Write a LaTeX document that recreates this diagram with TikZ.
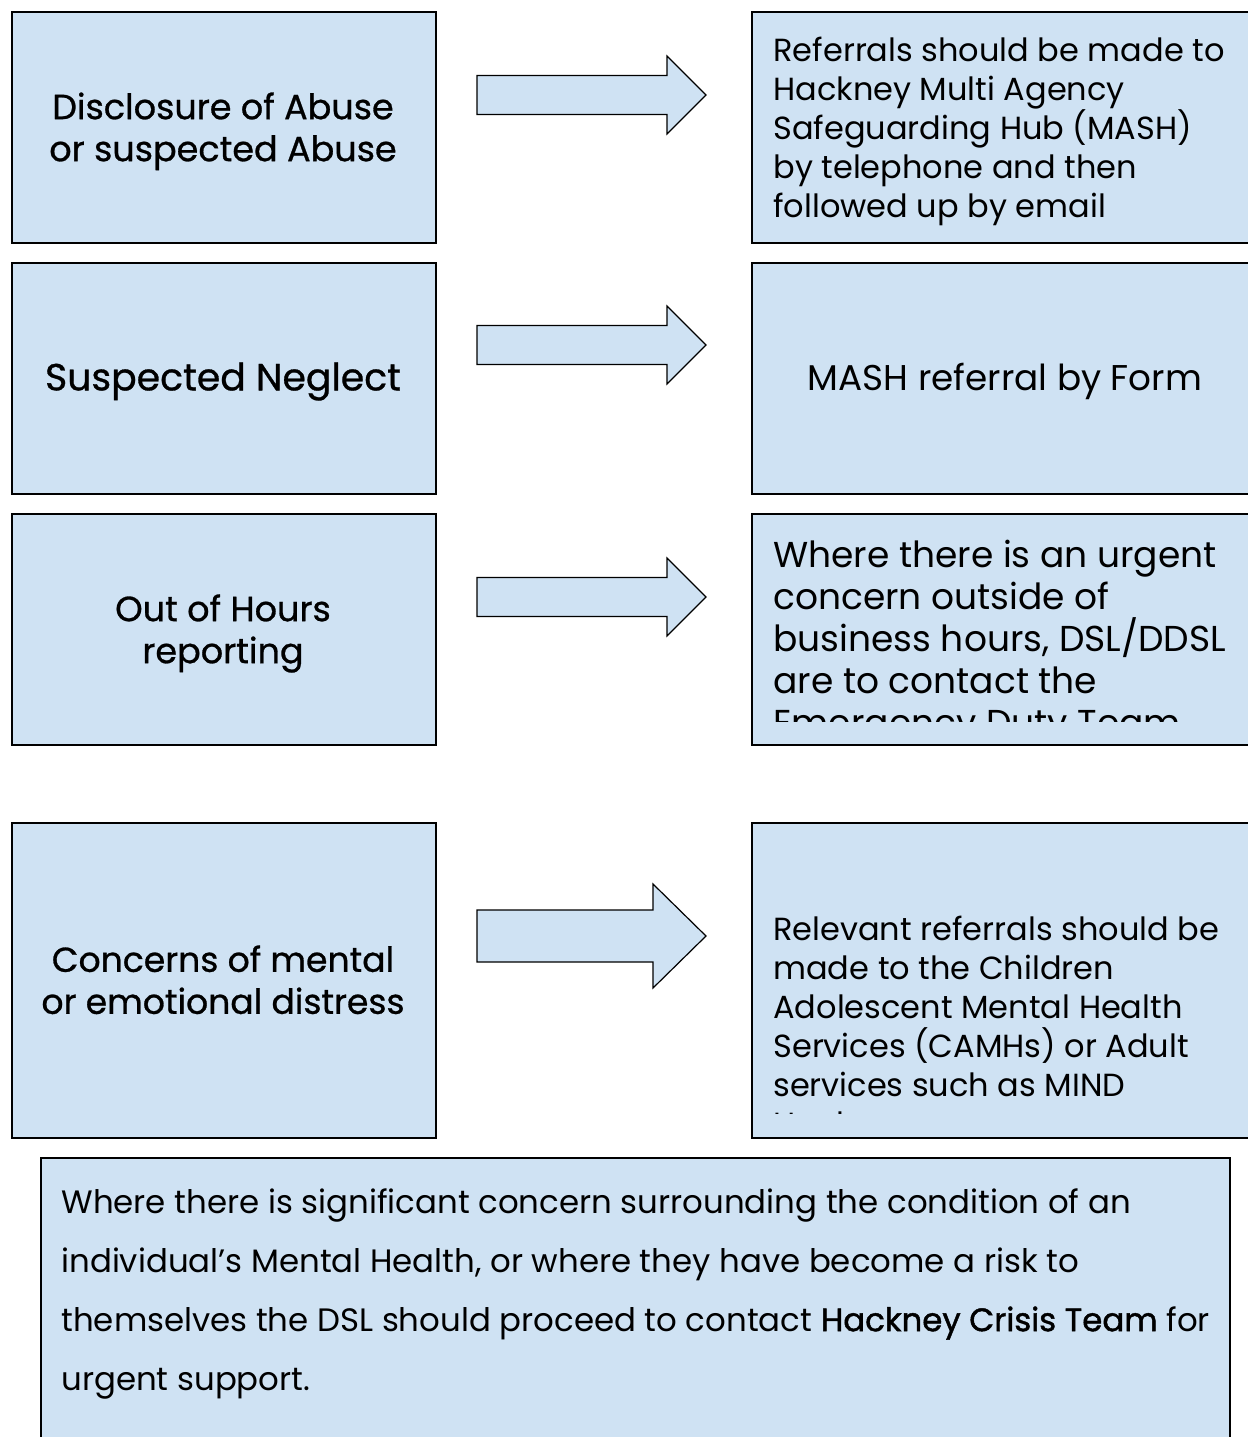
\documentclass[tikz,border=0pt]{standalone}
\usepackage{fontspec}
\setmainfont{Poppins}
\newfontfamily\medfont[FakeBold=0.8]{Poppins}
\newfontfamily\semifont[FakeBold=1.4]{Poppins}
\definecolor{boxblue}{HTML}{CFE2F3}
\begin{document}
\begin{tikzpicture}[x=0.5pt,y=-0.5pt,
  box/.style={draw=black, fill=boxblue, line width=0.75pt, anchor=north west, inner sep=0pt},
  lbox/.style={box, minimum width=212pt},
  rbox/.style={box, minimum width=260pt},
  blockarrow/.style={draw=black, fill=boxblue, line width=0.6pt, line join=miter},
  ltext/.style={inner sep=0pt, align=center, font=\medfont\fontsize{17.5}{21}\selectfont},
  rtext/.style={inner sep=0pt, align=left, anchor=north west, font=\fontsize{16}{19.5}\selectfont},
]
\useasboundingbox (0,0) rectangle (1248,1437);
\clip (0,0) rectangle (1248,1437);
% left boxes
\node[lbox, minimum height=115.5pt] (L1) at (11,11) {};
\node[lbox, minimum height=115.5pt] (L2) at (11,262) {};
\node[lbox, minimum height=115.5pt] (L3) at (11,513) {};
\node[lbox, minimum height=157.5pt] (L4) at (11,822) {};
% right boxes
\node[rbox, minimum height=115.5pt] (R1) at (751,11) {};
\node[rbox, minimum height=115.5pt] (R2) at (751,262) {};
\node[rbox, minimum height=115.5pt] (R3) at (751,513) {};
\node[rbox, minimum height=157.5pt] (R4) at (751,822) {};
% bottom box
\node[box, minimum width=594.5pt, minimum height=160pt] (B) at (40,1157) {};
% block arrows
\foreach \c/\n in {95/A1, 345/A2, 597/A3}{
  \draw[blockarrow] (477,\c-19.5) -- (667,\c-19.5) -- (667,\c-39) -- (706,\c) -- (667,\c+39) -- (667,\c+19.5) -- (477,\c+19.5) -- cycle;
}
\draw[blockarrow] (477,910) -- (653,910) -- (653,884) -- (706,936) -- (653,988) -- (653,962) -- (477,962) -- cycle;
% left texts
\node[ltext, anchor=north] (T1) at (223,92) {Disclosure of Abuse\\or suspected Abuse};
\node[ltext, anchor=north, font=\medfont\fontsize{18.9}{21}\selectfont] (T2) at (223,362) {Suspected Neglect};
\node[ltext, anchor=north] (T3) at (223,594) {Out of Hours\\reporting};
\node[ltext, anchor=north, font=\medfont\fontsize{17.3}{21}\selectfont] (T4) at (223,945) {Concerns of mental\\or emotional distress};
% right texts
\node[rtext] (S1) at (773,37) {Referrals should be made to\\Hackney Multi Agency\\Safeguarding Hub (MASH)\\by telephone and then\\followed up by email};
\node[rtext, anchor=north, font=\fontsize{17.9}{21}\selectfont] (S2) at (1005,363) {MASH referral by Form};
\begin{scope}
\clip (752,514) rectangle (1248,721);
\node[rtext, font=\fontsize{18}{21}\selectfont] (S3) at (773,540) {Where there is an urgent\\concern outside of\\business hours, DSL/DDSL\\are to contact the\\Emergency Duty Team};
\end{scope}
\begin{scope}
\clip (752,823) rectangle (1248,1113);
\node[rtext] (S4) at (773,916) {Relevant referrals should be\\made to the Children\\Adolescent Mental Health\\Services (CAMHs) or Adult\\services such as MIND\\Hackney};
\end{scope}
% bottom text
\node[rtext, font=\fontsize{16.2}{29.5}\selectfont] (BT) at (61,1188) {Where there is significant concern surrounding the condition of an\\individual's Mental Health, or where they have become a risk to\\themselves the DSL should proceed to contact {\semifont Hackney Crisis Team} for\\urgent support.};
\end{tikzpicture}
\end{document}
